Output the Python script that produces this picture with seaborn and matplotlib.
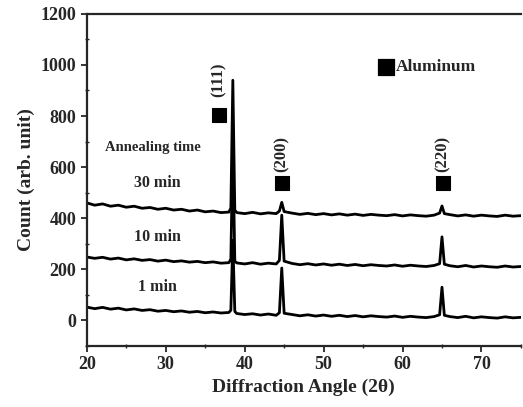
import matplotlib
matplotlib.use("Agg")
import matplotlib.pyplot as plt
from matplotlib.ticker import MultipleLocator
import pandas as pd
import seaborn as sns

# angles (2 theta) shared by the three patterns
angles = [20, 21, 22, 23, 24, 25, 26, 27, 28, 29, 30, 31, 32, 33, 34, 35, 36, 37, 38,
          38.25, 38.5, 38.75,
          39, 40, 41, 42, 43, 44,
          44.4, 44.7, 45.0,
          46, 47, 48, 49, 50, 51, 52, 53, 54, 55, 56, 57, 58, 59, 60, 61, 62, 63, 64,
          64.7, 65.0, 65.3,
          66, 67, 68, 69, 70, 71, 72, 73, 74, 75]

count_1min = [52, 46, 51, 44, 48, 41, 45, 39, 42, 36, 39, 34, 37, 32, 35, 30, 33, 29, 31,
              40, 314, 35,
              27, 23, 26, 21, 25, 20,
              30, 205, 28,
              23, 18, 22, 17, 21, 16, 20, 15, 19, 14, 18, 15, 13, 17, 12, 16, 13, 11, 15,
              22, 130, 20,
              15, 11, 16, 10, 14, 11, 9, 14, 10, 12]

count_10min = [248, 243, 247, 240, 244, 237, 241, 235, 238, 232, 236, 230, 233, 228, 231, 226, 229, 224, 226,
               240, 700, 232,
               225, 221, 226, 220, 224, 221,
               235, 412, 232,
               223, 218, 222, 217, 221, 216, 220, 215, 219, 214, 218, 215, 213, 217, 212, 216, 213, 211, 215,
               222, 327, 220,
               214, 210, 215, 209, 213, 210, 208, 213, 209, 211]

count_30min = [460, 451, 456, 447, 451, 443, 447, 439, 442, 435, 439, 432, 435, 428, 432, 425, 428, 422, 424,
               440, 940, 432,
               422, 418, 423, 417, 421, 418,
               428, 462, 426,
               420, 415, 419, 414, 418, 413, 417, 412, 416, 411, 415, 412, 410, 414, 409, 413, 410, 408, 412,
               420, 448, 418,
               414, 409, 413, 408, 412, 409, 407, 412, 408, 410]

# peak markers (aluminum)
peak_angles = [36.7, 44.7, 65.1]
marker_counts = [804, 537, 537]
peak_labels = ["(111)", "(200)", "(220)"]
label_counts = [941, 650, 650]

# curve labels
time_labels = ["30 min", "10 min", "1 min"]
time_label_counts = [537, 325, 129]

sns.set_style("ticks")
plt.rcParams["font.family"] = ["Liberation Serif", "DejaVu Serif"]
plt.rcParams["font.weight"] = "bold"

fig = plt.figure(figsize=(5.23, 4.07), dpi=100)
ax = fig.add_axes([0.166, 0.150, 0.830, 0.816])

df = pd.DataFrame({"angle": angles * 3,
                   "count": count_1min + count_10min + count_30min,
                   "time": ["1 min"] * len(angles) + ["10 min"] * len(angles) + ["30 min"] * len(angles)})
for t in ["1 min", "10 min", "30 min"]:
    sns.lineplot(data=df[df["time"] == t], x="angle", y="count", color="black",
                 linewidth=2.0, ax=ax, legend=False)

# aluminum squares + hkl labels
sns.scatterplot(x=peak_angles, y=marker_counts, marker="s", s=95, color="black",
                edgecolor="black", ax=ax, legend=False)
for a, c, lab in zip(peak_angles, label_counts, peak_labels):
    ax.text(a, c, lab, rotation=90, ha="center", va="center", fontsize=12, fontweight="bold")

# legend-like marker
sns.scatterplot(x=[57.9], y=[990], marker="s", s=125, color="black", edgecolor="black",
                ax=ax, legend=False)
ax.text(59.1, 990, "Aluminum", ha="left", va="center", fontsize=12.5, fontweight="bold")

ax.text(28.4, 678, "Annealing time", ha="center", va="center", fontsize=10.5, fontweight="bold")
for lab, c in zip(time_labels, time_label_counts):
    ax.text(28.9, c, lab, ha="center", va="center", fontsize=11.5, fontweight="bold")

ax.set_xlim(20, 75)
ax.set_ylim(-100, 1200)
ax.xaxis.set_major_locator(MultipleLocator(10))
ax.xaxis.set_minor_locator(MultipleLocator(5))
ax.yaxis.set_major_locator(MultipleLocator(200))
ax.yaxis.set_minor_locator(MultipleLocator(100))
ax.tick_params(which="major", direction="out", length=4, width=1.3, labelsize=13)
ax.tick_params(which="minor", direction="inout", length=3, width=1.0)
for lab in ax.get_xticklabels() + ax.get_yticklabels():
    lab.set_fontweight("bold")

ax.spines["right"].set_visible(False)
for s in ["left", "bottom", "top"]:
    ax.spines[s].set_linewidth(1.6)

ax.set_xlabel("Diffraction Angle (2θ)", fontsize=14, fontweight="bold")
ax.set_ylabel("Count (arb. unit)", fontsize=14, fontweight="bold")

fig.savefig("out.png", dpi=100)
